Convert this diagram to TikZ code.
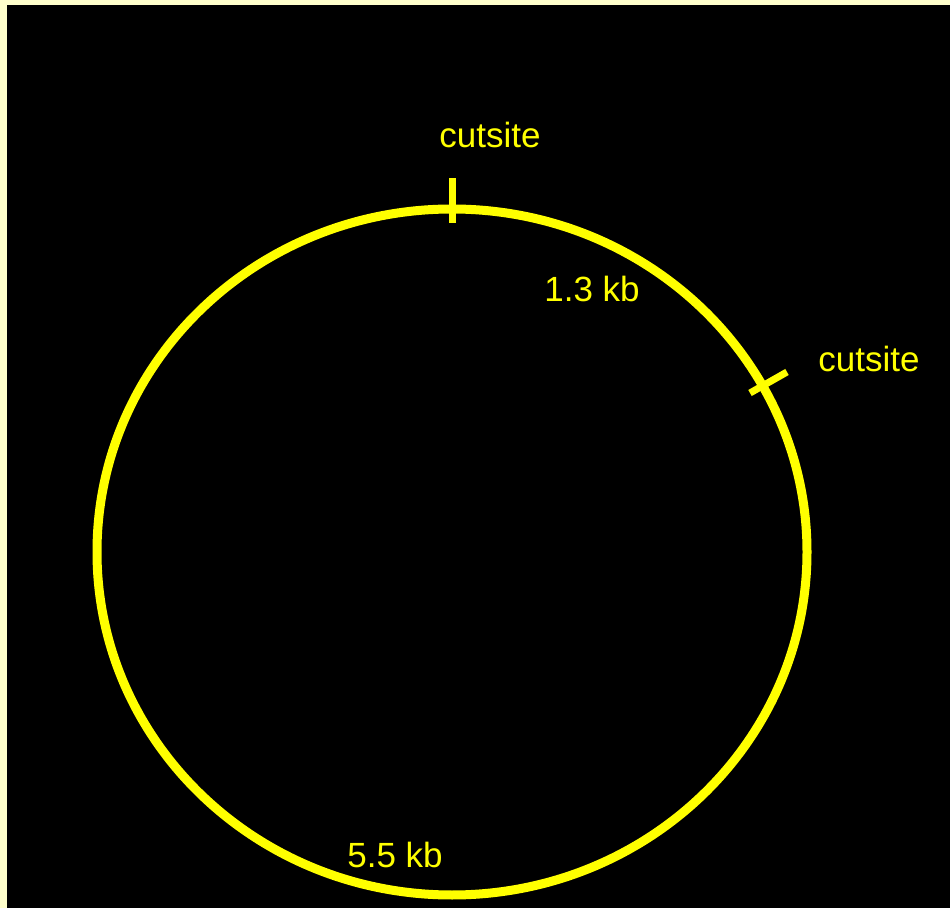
\documentclass[tikz,border=0pt]{standalone}
\usepackage{fontspec}
\setmainfont{Liberation Sans}
\usepackage{tikz}
\usetikzlibrary{calc,positioning}
\definecolor{mCream}{RGB}{255,255,204}
\definecolor{mYellow}{RGB}{255,255,0}

\begin{document}
\begin{tikzpicture}[x=1pt,y=1pt,
    lbl/.style={mYellow, inner sep=0pt, anchor=base, font=\fontsize{35}{40}\selectfont}]
    \useasboundingbox (0,0) rectangle (950,908);

    % background
    \fill[mCream] (0,0) rectangle (950,908);
    \fill[black] (7,0) rectangle (950,903);

    % plasmid ring
    \draw[line width=9pt, mYellow] (452,356) ellipse (355 and 343);

    % cut sites on the ring
    \coordinate (cutA) at (452,699);
    \coordinate (cutB) at (762,522);

    % tick at the top
    \draw[line width=7pt, mYellow] ($(cutA)+(0,-14)$) -- ($(cutA)+(0,31)$);
    \node[lbl] (cutAlbl) at (490,760) {cutsite};

    % tick on the right
    \draw[line width=7pt, mYellow] ($(cutB)+(-12,-7)$) -- ($(cutB)+(25,14)$);
    \node[lbl] (cutBlbl) at (869,536) {cutsite};

    % fragment sizes
    \node[lbl] (smallfrag) at (592,606) {1.3 kb};
    \node[lbl] (largefrag) at (395,41) {5.5 kb};
  \end{tikzpicture}
\end{document}
